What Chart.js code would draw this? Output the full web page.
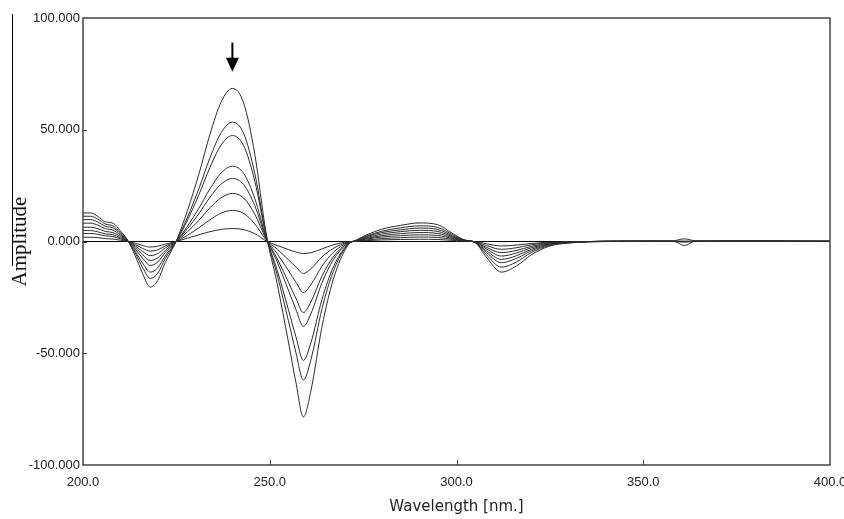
<!DOCTYPE html>
<html>
<head>
<meta charset="utf-8">
<script src="https://cdn.jsdelivr.net/npm/chart.js@4.4.1/dist/chart.umd.min.js"></script>
<style>
  body { margin: 0; background: #fff; }
  #wrap { width: 844px; height: 519px; }
</style>
</head>
<body>
<div id="wrap"><canvas id="myChart" width="844" height="519"></canvas></div>
<script>
// Wavelength points (nm)
const wavelength = [
  200, 202, 204, 206, 208, 210, 212, 214, 216, 218,
  220, 222, 225, 228, 231, 234, 237, 240, 243, 246,
  249, 252, 255, 257, 259, 261, 264, 267, 271, 273,
  276, 280, 285, 290, 295, 299, 302, 305, 308, 312,
  316, 320, 325, 330,
  340, 350, 358, 361, 364, 370, 380, 390, 400,
];

// Amplitude of each spectrum, largest to smallest
const seriesA = [
  12.8, 12.8, 11.2, 8.8, 8.2, 4.8, 0.5, -6.5, -14.5, -20.4,
  -17.5, -9.5, 0.3, 14, 30, 48, 62.5, 68.5, 62, 39,
  4, -19, -45, -63, -78.5, -67, -38, -17, -1.5, 0.5,
  3, 5.5, 7.2, 8.3, 7.5, 3.5, 0.8, -0.5, -7, -13.7,
  -11, -6, -2, -0.7,
  0.2, 0.3, 0.2, -1.8, 0.2, 0.3, 0.4, 0.3, 0.2,
];
const seriesB = [
  11.3, 11.3, 10.0, 7.8, 7.0, 4.0, 0.4, -5.2, -11.8, -16.5,
  -14.2, -7.7, 0.2, 11, 23.5, 37.5, 48.7, 53.4, 48.4, 30.4,
  3.1, -15, -35.5, -49.7, -62, -53, -30, -13.4, -1.2, 0.4,
  2.5, 4.6, 6.1, 7, 6.3, 3, 0.7, -0.4, -5.9, -11.5,
  -9.2, -5, -1.7, -0.6,
  0.1, 0.2, 0.3, 1.2, 0.3, 0.2, 0.3, 0.2, 0.2,
];
const seriesC = [
  9.8, 9.8, 8.7, 6.8, 6.1, 3.5, 0.3, -4.4, -9.8, -13.7,
  -11.8, -6.4, 0.2, 9.7, 20.8, 33.2, 43.2, 47.4, 42.9, 27,
  2.7, -12.9, -30.5, -42.6, -53.2, -45.4, -25.8, -11.5, -1, 0.3,
  2.2, 4, 5.2, 6, 5.4, 2.5, 0.6, -0.4, -4.9, -9.5,
  -7.6, -4.2, -1.4, -0.5,
  0, 0.1, 0, -0.3, 0.1, 0.1, 0.2, 0, 0.1,
];
const seriesD = [
  8.2, 8.2, 7.3, 5.7, 5.1, 2.9, 0.3, -3.4, -7.6, -10.7,
  -9.2, -5, 0.1, 6.9, 14.8, 23.6, 30.7, 33.7, 30.5, 19.2,
  2, -9.2, -21.8, -30.4, -38, -32.4, -18.4, -8.2, -0.7, 0.3,
  1.8, 3.3, 4.4, 5, 4.5, 2.1, 0.5, -0.3, -4.1, -8,
  -6.4, -3.5, -1.2, -0.4,
  0.1, 0, 0.1, 0, 0.1, 0, 0.1, 0.1, 0,
];
const seriesE = [
  6.4, 6.4, 5.7, 4.5, 4, 2.3, 0.2, -2.7, -6, -8.5,
  -7.3, -4, 0.1, 5.8, 12.4, 19.8, 25.7, 28.2, 25.5, 16,
  1.6, -7.7, -18.2, -25.4, -31.8, -27.1, -15.4, -6.9, -0.6, 0.2,
  1.4, 2.6, 3.5, 4, 3.6, 1.7, 0.4, -0.2, -3.3, -6.5,
  -5.2, -2.8, -1, -0.3,
  0, 0.1, 0, 0.1, 0, 0.1, 0, 0.1, 0,
];
const seriesF = [
  4.9, 4.9, 4.3, 3.4, 3, 1.7, 0.2, -2, -4.5, -6.3,
  -5.4, -2.9, 0.1, 4.4, 9.4, 15.1, 19.6, 21.5, 19.5, 12.2,
  1.2, -5.5, -13, -18.2, -22.8, -19.4, -11, -4.9, -0.4, 0.2,
  1.1, 2, 2.6, 3, 2.7, 1.3, 0.3, -0.2, -2.6, -5,
  -4, -2.2, -0.7, -0.3,
  0.1, 0, 0.1, 0, 0.1, 0, 0.1, 0, 0.1,
];
const seriesG = [
  3.6, 3.6, 3.2, 2.5, 2.2, 1.2, 0.1, -1.4, -3.1, -4.3,
  -3.7, -2, 0, 2.8, 6.1, 9.7, 12.7, 13.9, 12.6, 7.9,
  0.8, -3.4, -8.2, -11.4, -14.3, -12.2, -6.9, -3.1, -0.3, 0.1,
  0.7, 1.3, 1.7, 2, 1.8, 0.9, 0.2, -0.1, -1.8, -3.5,
  -2.8, -1.5, -0.5, -0.2,
  0, 0.1, 0, 0.1, 0, 0.1, 0, 0.1, 0,
];
const seriesH = [
  1.9, 1.9, 1.7, 1.3, 1.1, 0.6, 0, -0.8, -1.8, -2.5,
  -2.1, -1.2, 0, 1.5, 3, 4.4, 5.4, 5.8, 5.3, 3.5,
  0.3, -1.8, -3.6, -4.7, -5.4, -5, -3.3, -1.5, -0.1, 0.1,
  0.4, 0.7, 0.9, 1, 0.9, 0.5, 0.1, 0, -1, -2,
  -1.6, -0.9, -0.3, -0.1,
  0, 0, 0.1, 0, 0, 0.1, 0, 0, 0,
];

// Ticks
const xTicks = [200, 250, 300, 350, 400];
const yTicks = [-100, -50, 0, 50, 100];

// Arrow marking the decreasing peak (wavelength, amplitude from -> to)
const arrowAt = 240;
const arrowFrom = 89;
const arrowTo = 76;

const allSeries = [seriesA, seriesB, seriesC, seriesD, seriesE, seriesF, seriesG, seriesH];

const datasets = allSeries.map((s) => ({
  data: wavelength.map((w, i) => ({ x: w, y: s[i] })),
  borderColor: "#2b2b2b",
  borderWidth: 1,
  pointRadius: 0,
  cubicInterpolationMode: "monotone",
  fill: false,
}));

// zero line
datasets.push({
  data: [
    { x: xTicks[0], y: 0 },
    { x: xTicks[xTicks.length - 1], y: 0 },
  ],
  borderColor: "#000",
  borderWidth: 1,
  pointRadius: 0,
  fill: false,
});

// frame, inward ticks, arrow
const decorations = {
  id: "decorations",
  afterDraw(chart) {
    const { ctx, chartArea: a, scales } = chart;
    ctx.save();
    ctx.strokeStyle = "#444";
    ctx.lineWidth = 1.5;
    ctx.strokeRect(a.left, a.top, a.right - a.left, a.bottom - a.top);

    ctx.lineWidth = 1;
    ctx.beginPath();
    xTicks.slice(1, -1).forEach((v) => {
      const px = Math.round(scales.x.getPixelForValue(v)) + 0.5;
      ctx.moveTo(px, a.bottom);
      ctx.lineTo(px, a.bottom - 5);
    });
    yTicks.slice(1, -1).forEach((v) => {
      const py = Math.round(scales.y.getPixelForValue(v)) + 0.5;
      ctx.moveTo(a.left, py);
      ctx.lineTo(a.left + 4, py);
    });
    ctx.stroke();

    // stray line left of the y title
    ctx.strokeStyle = "#000";
    ctx.beginPath();
    ctx.moveTo(12.5, 14);
    ctx.lineTo(12.5, 266);
    ctx.stroke();

    // arrow
    const ax = scales.x.getPixelForValue(arrowAt);
    const y1 = scales.y.getPixelForValue(arrowFrom);
    const y2 = scales.y.getPixelForValue(arrowTo);
    ctx.strokeStyle = "#000";
    ctx.fillStyle = "#000";
    ctx.lineWidth = 2;
    ctx.beginPath();
    ctx.moveTo(ax, y1);
    ctx.lineTo(ax, y2 - 12);
    ctx.stroke();
    ctx.beginPath();
    ctx.moveTo(ax - 6.5, y2 - 14);
    ctx.lineTo(ax + 6.5, y2 - 14);
    ctx.lineTo(ax, y2);
    ctx.closePath();
    ctx.fill();
    ctx.restore();
  },
};

const myChart = new Chart(document.getElementById("myChart"), {
  type: "line",
  data: { datasets: datasets },
  options: {
    responsive: false,
    animation: false,
    layout: { padding: { top: 18, right: 14, left: 0, bottom: 0 } },
    plugins: {
      legend: { display: false },
      tooltip: { enabled: false },
    },
    scales: {
      x: {
        type: "linear",
        min: 200,
        max: 400,
        grid: { display: false, drawTicks: false },
        border: { display: false },
        ticks: {
          stepSize: 50,
          padding: 10,
          color: "#222",
          font: { family: "Liberation Sans", size: 13 },
          callback: (v) => v.toFixed(1),
        },
        title: {
          display: true,
          text: "Wavelength [nm.]",
          color: "#222",
          font: { family: "DejaVu Sans", size: 15 },
          padding: { top: 9, bottom: 3 },
        },
        afterFit: (scale) => {
          scale.height = 54;
          scale.paddingRight = 0;
        },
      },
      y: {
        min: -100,
        max: 100,
        grid: { display: false, drawTicks: false },
        border: { display: false },
        ticks: {
          stepSize: 50,
          padding: 3,
          color: "#222",
          font: { family: "Liberation Sans", size: 13 },
          callback: (v) => v.toFixed(3),
        },
        title: {
          display: true,
          text: "Amplitude",
          color: "#111",
          font: { family: "Liberation Serif", size: 21 },
          padding: { top: 8, bottom: 0 },
        },
        afterFit: (scale) => {
          scale.width = 83;
        },
      },
    },
  },
  plugins: [decorations],
});
</script>
</body>
</html>
